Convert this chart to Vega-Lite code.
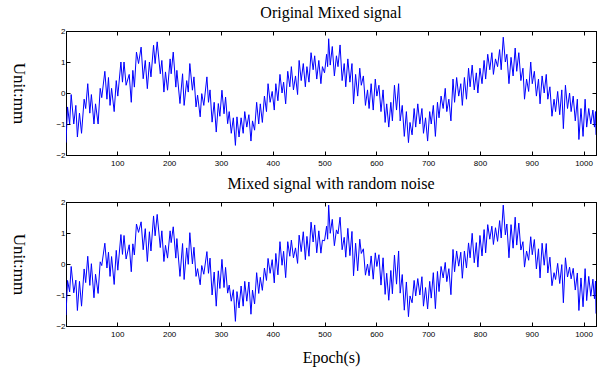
{
  "$schema": "https://vega.github.io/schema/vega-lite/v6.json",
  "padding": {"left": 10, "top": 4, "right": 5, "bottom": 5},
  "bounds": "flush",
  "spacing": 47,
  "background": "white",
  "config": {
    "view": {"stroke": "black", "strokeWidth": 1},
    "axis": {
      "domainColor": "black", "tickColor": "black", "tickSize": -4, "grid": false,
      "labelFont": "Liberation Sans", "labelFontSize": 8, "labelColor": "black",
      "titleFont": "Liberation Serif", "titleFontSize": 16, "titleFontWeight": "normal", "titleColor": "black"
    },
    "title": {"font": "Liberation Serif", "fontSize": 16, "fontWeight": "normal", "color": "black", "offset": 6}
  },
  "data": {"values": [
{"t":1,"a":-1.6,"b":-1.65},{"t":4,"a":-0.45,"b":-0.53},{"t":8,"a":-1.0,"b":-0.9},{"t":11,"a":-0.05,"b":-0.08},
{"t":16,"a":-1.0,"b":-0.93},{"t":20,"a":-0.4,"b":-0.52},{"t":23,"a":-1.42,"b":-1.5},{"t":27,"a":-0.65,"b":-0.56},
{"t":31,"a":-1.3,"b":-1.36},{"t":36,"a":-0.2,"b":-0.16},{"t":39,"a":-0.5,"b":-0.6},{"t":43,"a":0.3,"b":0.25},
{"t":47,"a":-0.65,"b":-0.69},{"t":50,"a":-0.05,"b":0.01},{"t":55,"a":-1.0,"b":-1.09},{"t":58,"a":-0.35,"b":-0.33},
{"t":63,"a":-1.0,"b":-0.95},{"t":67,"a":0.15,"b":0.07},{"t":70,"a":-0.15,"b":-0.05},{"t":76,"a":0.7,"b":0.67},
{"t":80,"a":-0.2,"b":-0.13},{"t":83,"a":0.5,"b":0.38},{"t":86,"a":-0.4,"b":-0.4},{"t":89,"a":0.15,"b":0.24},
{"t":94,"a":-0.6,"b":-0.66},{"t":98,"a":0.4,"b":0.44},{"t":101,"a":-0.1,"b":-0.2},{"t":107,"a":1.0,"b":0.95},
{"t":110,"a":0.35,"b":0.31},{"t":113,"a":1.0,"b":0.92},{"t":117,"a":0.25,"b":0.16},{"t":123,"a":0.6,"b":0.62},
{"t":127,"a":-0.3,"b":-0.25},{"t":130,"a":0.73,"b":0.65},{"t":133,"a":0.19,"b":0.29},{"t":137,"a":1.32,"b":1.29},
{"t":141,"a":0.95,"b":1.02},{"t":146,"a":1.48,"b":1.36},{"t":150,"a":0.46,"b":0.46},{"t":154,"a":1.05,"b":1.14},
{"t":158,"a":0.14,"b":0.08},{"t":162,"a":1.0,"b":1.04},{"t":165,"a":0.52,"b":0.42},{"t":170,"a":1.54,"b":1.55},
{"t":173,"a":0.95,"b":0.91},{"t":177,"a":1.65,"b":1.6},{"t":183,"a":0.62,"b":0.53},{"t":186,"a":1.05,"b":1.07},
{"t":190,"a":0.03,"b":0.08},{"t":193,"a":0.68,"b":0.6},{"t":197,"a":0.09,"b":0.19},{"t":202,"a":1.1,"b":1.07},
{"t":204,"a":0.62,"b":0.69},{"t":208,"a":1.32,"b":1.2},{"t":213,"a":0.19,"b":0.19},{"t":215,"a":0.73,"b":0.82},
{"t":221,"a":-0.34,"b":-0.4},{"t":226,"a":0.62,"b":0.66},{"t":229,"a":-0.4,"b":-0.5},{"t":234,"a":0.4,"b":0.52},
{"t":237,"a":0.03,"b":-0.01},{"t":240,"a":0.95,"b":1.01},{"t":245,"a":0.09,"b":0.0},{"t":248,"a":0.52,"b":0.54},
{"t":252,"a":-0.45,"b":-0.4},{"t":255,"a":-0.07,"b":-0.15},{"t":260,"a":-0.77,"b":-0.67},{"t":263,"a":-0.02,"b":-0.05},
{"t":267,"a":-0.4,"b":-0.33},{"t":273,"a":0.52,"b":0.4},{"t":276,"a":-0.3,"b":-0.3},{"t":279,"a":0.1,"b":0.19},
{"t":283,"a":-0.94,"b":-1.0},{"t":287,"a":-0.3,"b":-0.26},{"t":291,"a":-1.26,"b":-1.36},{"t":295,"a":-0.34,"b":-0.22},
{"t":298,"a":-0.75,"b":-0.79},{"t":302,"a":0.09,"b":0.15},{"t":306,"a":-0.67,"b":-0.76},{"t":309,"a":-0.13,"b":-0.11},
{"t":313,"a":-0.99,"b":-0.94},{"t":316,"a":-0.6,"b":-0.68},{"t":320,"a":-1.3,"b":-1.2},{"t":324,"a":-0.8,"b":-0.83},
{"t":328,"a":-1.69,"b":-1.85},{"t":331,"a":-0.77,"b":-0.89},{"t":335,"a":-1.42,"b":-1.42},{"t":339,"a":-0.8,"b":-0.71},
{"t":343,"a":-1.3,"b":-1.36},{"t":346,"a":-0.6,"b":-0.56},{"t":350,"a":-1.1,"b":-1.2},{"t":354,"a":-0.7,"b":-0.58},
{"t":358,"a":-1.55,"b":-1.62},{"t":361,"a":-0.9,"b":-0.84},{"t":365,"a":-1.2,"b":-1.29},{"t":369,"a":-0.3,"b":-0.28},
{"t":373,"a":-1.0,"b":-0.95},{"t":376,"a":-0.35,"b":-0.43},{"t":380,"a":-0.95,"b":-0.85},{"t":384,"a":-0.1,"b":-0.13},
{"t":388,"a":-0.6,"b":-0.53},{"t":391,"a":0.3,"b":0.18},{"t":395,"a":-0.3,"b":-0.3},{"t":399,"a":0.05,"b":0.14},
{"t":403,"a":-0.55,"b":-0.61},{"t":406,"a":0.3,"b":0.34},{"t":410,"a":-0.25,"b":-0.35},{"t":414,"a":0.6,"b":0.72},
{"t":418,"a":0.0,"b":-0.04},{"t":421,"a":0.35,"b":0.41},{"t":425,"a":-0.35,"b":-0.44},{"t":429,"a":0.7,"b":0.72},
{"t":433,"a":0.2,"b":0.25},{"t":436,"a":0.85,"b":0.77},{"t":440,"a":0.1,"b":0.2},{"t":444,"a":0.55,"b":0.52},
{"t":448,"a":-0.05,"b":0.02},{"t":451,"a":1.05,"b":0.93},{"t":455,"a":0.4,"b":0.4},{"t":459,"a":0.95,"b":1.04},
{"t":463,"a":0.2,"b":0.14},{"t":466,"a":0.85,"b":0.89},{"t":470,"a":0.35,"b":0.25},{"t":474,"a":1.3,"b":1.35},
{"t":478,"a":0.75,"b":0.71},{"t":481,"a":1.2,"b":1.26},{"t":485,"a":0.45,"b":0.36},{"t":489,"a":1.05,"b":1.07},
{"t":493,"a":0.3,"b":0.35},{"t":496,"a":0.85,"b":0.77},{"t":500,"a":0.65,"b":0.75},{"t":504,"a":1.25,"b":1.22},
{"t":506,"a":0.85,"b":0.8},{"t":508,"a":1.75,"b":1.9},{"t":511,"a":0.9,"b":0.99},{"t":515,"a":1.5,"b":1.44},
{"t":519,"a":0.55,"b":0.59},{"t":523,"a":1.2,"b":1.1},{"t":526,"a":0.85,"b":0.97},{"t":530,"a":1.55,"b":1.51},
{"t":534,"a":0.4,"b":0.46},{"t":538,"a":0.95,"b":0.86},{"t":541,"a":0.2,"b":0.22},{"t":545,"a":1.1,"b":1.15},
{"t":549,"a":0.35,"b":0.27},{"t":553,"a":0.95,"b":1.05},{"t":556,"a":-0.35,"b":-0.38},{"t":560,"a":0.6,"b":0.67},
{"t":564,"a":-0.1,"b":-0.22},{"t":568,"a":0.8,"b":0.8},{"t":571,"a":0.25,"b":0.34},{"t":575,"a":0.55,"b":0.49},
{"t":579,"a":-0.4,"b":-0.36},{"t":583,"a":0.1,"b":0.0},{"t":586,"a":-0.5,"b":-0.38},{"t":590,"a":0.3,"b":0.26},
{"t":594,"a":-0.55,"b":-0.49},{"t":598,"a":0.45,"b":0.36},{"t":601,"a":-0.1,"b":-0.08},{"t":605,"a":0.25,"b":0.3},
{"t":609,"a":-0.6,"b":-0.68},{"t":613,"a":0.1,"b":0.2},{"t":617,"a":-0.95,"b":-0.98},{"t":620,"a":-0.35,"b":-0.3},
{"t":624,"a":-1.1,"b":-1.17},{"t":628,"a":-0.3,"b":-0.21},{"t":631,"a":-0.9,"b":-0.96},{"t":635,"a":0.25,"b":0.29},
{"t":639,"a":-0.55,"b":-0.65},{"t":643,"a":0.3,"b":0.42},{"t":646,"a":-0.9,"b":-0.94},{"t":650,"a":-0.4,"b":-0.34},
{"t":654,"a":-1.4,"b":-1.49},{"t":658,"a":-0.6,"b":-0.58},{"t":662,"a":-1.6,"b":-1.7},{"t":665,"a":-0.95,"b":-1.03},
{"t":669,"a":-1.35,"b":-1.25},{"t":673,"a":-0.5,"b":-0.53},{"t":676,"a":-1.1,"b":-1.03},{"t":680,"a":-0.35,"b":-0.47},
{"t":684,"a":-1.0,"b":-1.0},{"t":688,"a":-0.5,"b":-0.41},{"t":691,"a":-1.3,"b":-1.36},{"t":695,"a":-0.8,"b":-0.76},
{"t":699,"a":-1.55,"b":-1.45},{"t":703,"a":-0.6,"b":-0.56},{"t":706,"a":-1.0,"b":-1.1},{"t":710,"a":-0.4,"b":-0.28},
{"t":714,"a":-1.4,"b":-1.44},{"t":718,"a":-0.3,"b":-0.24},{"t":721,"a":-0.8,"b":-0.89},{"t":725,"a":-0.1,"b":-0.08},
{"t":729,"a":-0.5,"b":-0.45},{"t":733,"a":0.15,"b":0.05},{"t":736,"a":-0.6,"b":-0.57},{"t":740,"a":-0.2,"b":-0.15},
{"t":744,"a":-0.9,"b":-0.99},{"t":748,"a":0.45,"b":0.47},{"t":751,"a":-0.3,"b":-0.25},{"t":755,"a":0.5,"b":0.42},
{"t":759,"a":-0.1,"b":-0.07},{"t":763,"a":0.3,"b":0.38},{"t":766,"a":-0.4,"b":-0.46},{"t":770,"a":0.5,"b":0.42},
{"t":774,"a":-0.2,"b":-0.13},{"t":778,"a":0.8,"b":0.68},{"t":781,"a":0.2,"b":0.2},{"t":785,"a":0.9,"b":0.99},
{"t":789,"a":0.1,"b":0.04},{"t":793,"a":0.65,"b":0.69},{"t":796,"a":0.0,"b":-0.1},{"t":800,"a":0.8,"b":0.92},
{"t":804,"a":0.3,"b":0.26},{"t":808,"a":1.05,"b":1.11},{"t":811,"a":0.45,"b":0.36},{"t":815,"a":1.25,"b":1.27},
{"t":819,"a":0.75,"b":0.8},{"t":823,"a":1.3,"b":1.22},{"t":826,"a":0.6,"b":0.63},{"t":830,"a":1.1,"b":1.17},
{"t":834,"a":0.85,"b":0.73},{"t":838,"a":1.4,"b":1.4},{"t":841,"a":0.75,"b":0.84},{"t":845,"a":1.8,"b":1.9},
{"t":849,"a":1.0,"b":0.94},{"t":852,"a":1.25,"b":1.29},{"t":856,"a":0.3,"b":0.2},{"t":860,"a":1.15,"b":1.27},
{"t":864,"a":0.55,"b":0.51},{"t":868,"a":1.45,"b":1.51},{"t":871,"a":0.7,"b":0.61},{"t":875,"a":1.3,"b":1.32},
{"t":879,"a":0.4,"b":0.45},{"t":883,"a":0.8,"b":0.72},{"t":886,"a":-0.2,"b":-0.1},{"t":890,"a":0.45,"b":0.42},
{"t":894,"a":0.05,"b":0.12},{"t":898,"a":1.0,"b":0.88},{"t":901,"a":0.3,"b":0.3},{"t":905,"a":0.7,"b":0.79},
{"t":909,"a":-0.1,"b":-0.16},{"t":913,"a":0.45,"b":0.49},{"t":916,"a":-0.35,"b":-0.45},{"t":920,"a":0.55,"b":0.67},
{"t":924,"a":0.0,"b":-0.04},{"t":928,"a":0.6,"b":0.66},{"t":931,"a":-0.2,"b":-0.29},{"t":935,"a":0.2,"b":0.22},
{"t":939,"a":-0.75,"b":-0.7},{"t":943,"a":-0.2,"b":-0.28},{"t":946,"a":-0.6,"b":-0.5},{"t":950,"a":0.05,"b":0.02},
{"t":954,"a":-0.7,"b":-0.63},{"t":958,"a":0.1,"b":-0.02},{"t":961,"a":-1.15,"b":-1.25},{"t":965,"a":0.25,"b":0.2},
{"t":969,"a":-0.5,"b":-0.42},{"t":973,"a":0.0,"b":-0.1},{"t":976,"a":-0.6,"b":-0.48},{"t":980,"a":-0.1,"b":-0.14},
{"t":984,"a":-0.9,"b":-0.84},{"t":988,"a":-0.2,"b":-0.29},{"t":991,"a":-1.5,"b":-1.5},{"t":995,"a":-0.5,"b":-0.45},
{"t":999,"a":-1.4,"b":-1.38},{"t":1003,"a":-0.2,"b":-0.15},{"t":1006,"a":-1.1,"b":-1.18},{"t":1010,"a":-0.5,"b":-0.4},
{"t":1014,"a":-1.0,"b":-1.04},{"t":1018,"a":-0.55,"b":-0.49},{"t":1021,"a":-1.1,"b":-1.12},{"t":1023,"a":-0.6,"b":-0.55},
{"t":1024,"a":-1.35,"b":-1.6}
  ]},
  "vconcat": [
    {
      "width": 530, "height": 124,
      "title": {"text": "Original Mixed signal"},
      "layer": [
        {
          "mark": {"type": "line", "color": "#0000ff", "strokeWidth": 1, "clip": true},
          "encoding": {
            "x": {"field": "t", "type": "quantitative", "scale": {"domain": [1, 1024], "nice": false, "zero": false},
                  "axis": {"values": [100,200,300,400,500,600,700,800,900,1000], "format": "d", "title": null, "labelPadding": 8}},
            "y": {"field": "a", "type": "quantitative", "scale": {"domain": [-2, 2], "nice": false},
                  "axis": {"values": [-2,-1,0,1,2], "format": "d", "title": "Unit:mm", "titleAngle": 90, "titleFontSize": 17, "titlePadding": 46, "labelPadding": 5}}
          }
        },
        {
          "mark": {"type": "line", "opacity": 0},
          "encoding": {
            "x": {"field": "t", "type": "quantitative", "axis": {"orient": "top", "values": [100,200,300,400,500,600,700,800,900,1000], "labels": false, "title": null}},
            "y": {"field": "a", "type": "quantitative", "axis": {"orient": "right", "values": [-2,-1,0,1,2], "labels": false, "title": null}}
          }
        }
      ],
      "resolve": {"axis": {"x": "independent", "y": "independent"}}
    },
    {
      "width": 530, "height": 124,
      "title": {"text": "Mixed signal with random noise"},
      "layer": [
        {
          "mark": {"type": "line", "color": "#0000ff", "strokeWidth": 1, "clip": true},
          "encoding": {
            "x": {"field": "t", "type": "quantitative", "scale": {"domain": [1, 1024], "nice": false, "zero": false},
                  "axis": {"values": [100,200,300,400,500,600,700,800,900,1000], "format": "d", "title": "Epoch(s)", "labelPadding": 8, "titlePadding": 11}},
            "y": {"field": "b", "type": "quantitative", "scale": {"domain": [-2, 2], "nice": false},
                  "axis": {"values": [-2,-1,0,1,2], "format": "d", "title": "Unit:mm", "titleAngle": 90, "titleFontSize": 17, "titlePadding": 46, "labelPadding": 5}}
          }
        },
        {
          "mark": {"type": "line", "opacity": 0},
          "encoding": {
            "x": {"field": "t", "type": "quantitative", "axis": {"orient": "top", "values": [100,200,300,400,500,600,700,800,900,1000], "labels": false, "title": null}},
            "y": {"field": "b", "type": "quantitative", "axis": {"orient": "right", "values": [-2,-1,0,1,2], "labels": false, "title": null}}
          }
        }
      ],
      "resolve": {"axis": {"x": "independent", "y": "independent"}}
    }
  ]
}
